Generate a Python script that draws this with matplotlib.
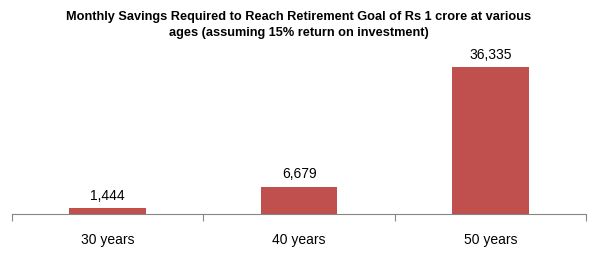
import matplotlib
matplotlib.use("Agg")
import matplotlib.pyplot as plt

# data
categories = ["30 years", "40 years", "50 years"]
savings = [1444, 6679, 36335]

plt.rcParams['font.family'] = ['Liberation Sans Narrow', 'Liberation Sans', 'DejaVu Sans']

fig = plt.figure(figsize=(5.97, 2.54), dpi=100)
ax = fig.add_axes([0.02, 0.159, 0.962, 0.636])

x = range(len(categories))
bars = ax.bar(x, savings, width=0.4, color="#C0504D")

# value labels above bars
for b, v in zip(bars, savings):
	ax.text(b.get_x() + b.get_width() / 2, v + 1300, f"{v:,}",
		ha="center", va="bottom", fontsize=10)

ax.set_xlim(-0.5, 2.5)
ax.set_ylim(0, 40000)
ax.set_xticks([-0.5, 0.5, 1.5, 2.5])
ax.set_xticklabels([])
ax.set_xticks(list(x), minor=True)
ax.set_xticklabels(categories, minor=True, fontsize=10)
ax.tick_params(axis="x", which="major", length=5, color="#868686")
ax.tick_params(axis="x", which="minor", length=0, pad=14)
ax.set_yticks([])

for s in ["left", "right", "top"]:
	ax.spines[s].set_visible(False)
ax.spines["bottom"].set_color("#868686")

fig.text(0.5, 0.955, "Monthly Savings Required to Reach Retirement Goal of Rs 1 crore at various\nages (assuming 15% return on investment)",
	ha="center", va="top", fontsize=9.2, fontweight="bold", linespacing=1.4)

fig.savefig("out.png", dpi=100)
